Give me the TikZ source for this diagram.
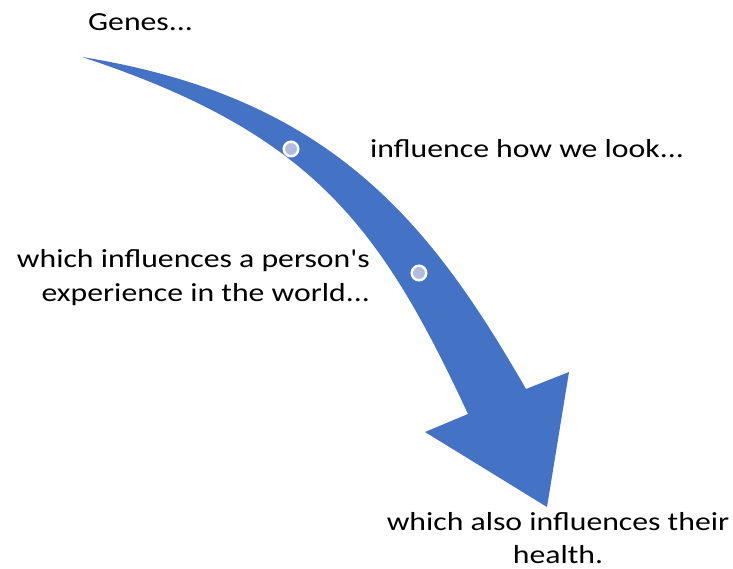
\documentclass[tikz,border=0pt]{standalone}
\usepackage{fontspec}
\setmainfont{Carlito}
\newfontfamily\lblfont[FakeStretch=1.22]{Carlito}
\definecolor{arrowblue}{RGB}{68,114,196}
\definecolor{dotfill}{RGB}{178,189,222}
\begin{document}
\begin{tikzpicture}[x=1pt,y=-1pt,
  lbl/.style={inner sep=0pt,font=\lblfont\fontsize{26}{33}\selectfont},
  stepdot/.style={circle,minimum size=14.6pt,inner sep=0pt,fill=dotfill,draw=white,line width=2.4pt}]
\useasboundingbox (0,0) rectangle (733,569);

% curved arrow body with its head
\fill[arrowblue]
  (82,57) .. controls (332,97) and (431,224) .. (526,389)
  -- (569,372) -- (547,507) -- (425,432) -- (468,414)
  .. controls (380,225) and (312,133) .. (82,57) -- cycle;

% markers on the arrow
\node[stepdot] (d1) at (291,149) {};
\node[stepdot] (d2) at (419,273) {};

% labels (multi-line labels are anchored on their last baseline)
\node[lbl,anchor=base west] (genes) at (88,31) {Genes...};
\node[lbl,anchor=base west] (look) at (370,158) {influence how we look...};
\node[lbl,anchor=base east,align=right] (world) at (370,301) {which influences a person's\\experience in the world...};
\node[lbl,anchor=base,align=center] (health) at (558,563) {which also influences their\\health.};
\end{tikzpicture}
\end{document}
